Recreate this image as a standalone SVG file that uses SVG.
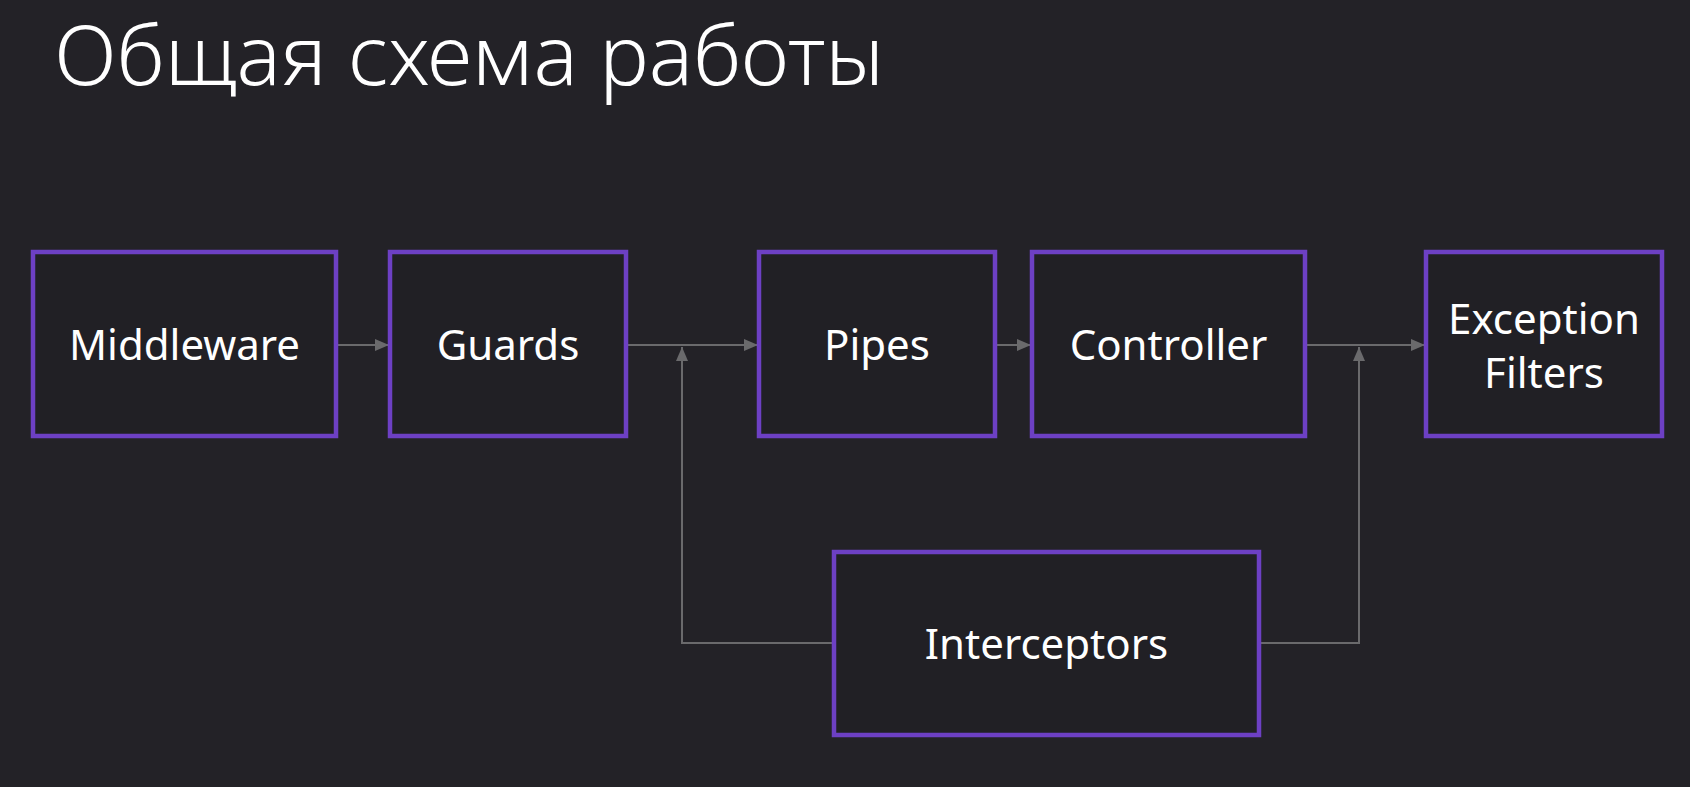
<svg xmlns="http://www.w3.org/2000/svg" width="1690" height="787" viewBox="0 0 1690 787">
<style>
.bg{fill:#232227}
.box{fill:#212025;stroke:#6d40c4;stroke-width:4.5}
.lbl{font-family:"Noto Sans","Open Sans",sans-serif;font-size:42px;fill:#ffffff;text-anchor:middle}
.title{font-family:"Noto Sans","Open Sans",sans-serif;font-weight:300;font-size:83px;fill:#ffffff}
.conn{fill:none;stroke:#6a6a6c;stroke-width:2}
</style>
<defs>
<marker id="arr" viewBox="0 0 14 12" refX="14" refY="6" markerWidth="14" markerHeight="12" markerUnits="userSpaceOnUse" orient="auto">
<path d="M0,0 L14,6 L0,12 Z" fill="#6a6a6c"/>
</marker>
</defs>
<rect class="bg" x="0" y="0" width="1690" height="787"/>
<text class="title" x="54" y="85" textLength="830" lengthAdjust="spacingAndGlyphs">Общая схема работы</text>
<g id="connectors">
<line class="conn" x1="337" y1="345" x2="389" y2="345" marker-end="url(#arr)"/>
<line class="conn" x1="627" y1="345" x2="758" y2="345" marker-end="url(#arr)"/>
<line class="conn" x1="996" y1="345" x2="1031" y2="345" marker-end="url(#arr)"/>
<line class="conn" x1="1306" y1="345" x2="1425" y2="345" marker-end="url(#arr)"/>
<polyline class="conn" points="833,643 682,643 682,347" marker-end="url(#arr)"/>
<polyline class="conn" points="1260,643 1359,643 1359,347" marker-end="url(#arr)"/>
</g>
<g id="middleware"><rect class="box" x="33" y="252" width="303" height="184"/><text class="lbl" x="184.5" y="360">Middleware</text></g>
<g id="guards"><rect class="box" x="390" y="252" width="236" height="184"/><text class="lbl" x="508" y="360">Guards</text></g>
<g id="pipes"><rect class="box" x="759" y="252" width="236" height="184"/><text class="lbl" x="877" y="360">Pipes</text></g>
<g id="controller"><rect class="box" x="1032" y="252" width="273" height="184"/><text class="lbl" x="1168.5" y="360">Controller</text></g>
<g id="exception-filters"><rect class="box" x="1426" y="252" width="236" height="184"/><text class="lbl" x="1544" y="334">Exception</text><text class="lbl" x="1544" y="388">Filters</text></g>
<g id="interceptors"><rect class="box" x="834" y="552" width="425" height="183"/><text class="lbl" x="1046.5" y="659">Interceptors</text></g>
</svg>
